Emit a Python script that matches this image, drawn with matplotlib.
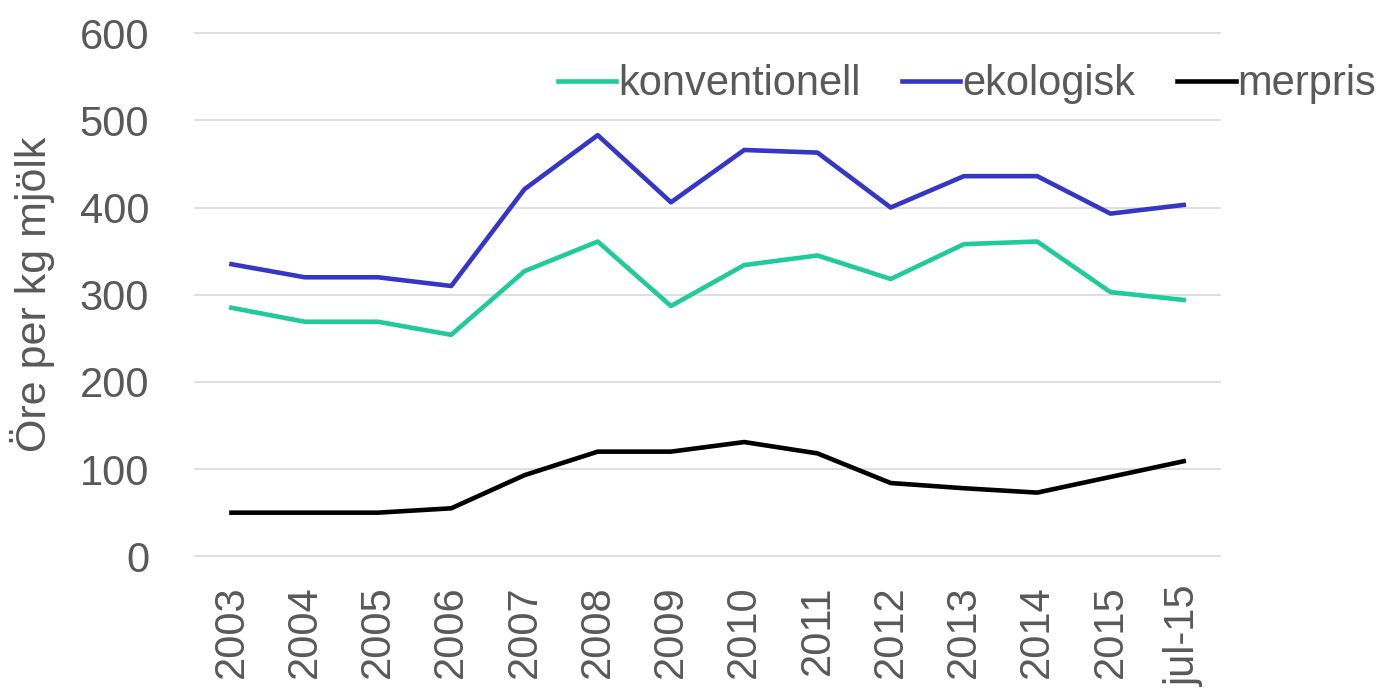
import numpy as np
import matplotlib.pyplot as plt

plt.rcParams['font.family'] = ['Liberation Sans', 'DejaVu Sans']

# Data
years = ['2003', '2004', '2005', '2006', '2007', '2008', '2009',
         '2010', '2011', '2012', '2013', '2014', '2015', 'jul-15']
konventionell = [285, 269, 269, 254, 327, 361, 287, 334, 345, 318, 358, 361, 303, 294]
ekologisk = [335, 320, 320, 310, 421, 483, 406, 466, 463, 400, 436, 436, 393, 403]
merpris = [50, 50, 50, 55, 93, 120, 120, 131, 118, 84, 78, 73, 91, 109]

grey = '#595959'
x = np.arange(len(years))

fig = plt.figure(figsize=(13.82, 6.91), dpi=100)
ax = fig.add_axes([0.141, 0.195, 0.742, 0.757])

ax.plot(x, konventionell, color='#1FCB9B', lw=3.3, label='konventionell')
ax.plot(x, ekologisk, color='#3535C8', lw=3.3, label='ekologisk')
ax.plot(x, merpris, color='black', lw=3.3, label='merpris')

ax.set_xlim(-0.5, len(years) - 0.5)
ax.set_ylim(0, 600)
ax.set_yticks(range(0, 601, 100))
ax.set_xticks(x)
ax.set_xticklabels(years, rotation=90)
ax.grid(axis='y', color='#D9D9D9', lw=1.2)
for gl in ax.get_ygridlines():
    gl.set_clip_on(False)
ax.set_axisbelow(True)
for s in ax.spines.values():
    s.set_visible(False)
ax.tick_params(axis='both', length=0, labelsize=30, labelcolor=grey)
ax.tick_params(axis='y', pad=33)
ax.tick_params(axis='x', pad=21)

ax.set_ylabel('Öre per kg mjölk', fontsize=31, color=grey, labelpad=18)

fig.legend(loc='center right', bbox_to_anchor=(1.008, 0.878), ncol=3, frameon=False,
           fontsize=30, labelcolor=grey, handlelength=1.4, handletextpad=0.05,
           columnspacing=1.0, borderaxespad=0)

fig.savefig('out.png', dpi=100)
